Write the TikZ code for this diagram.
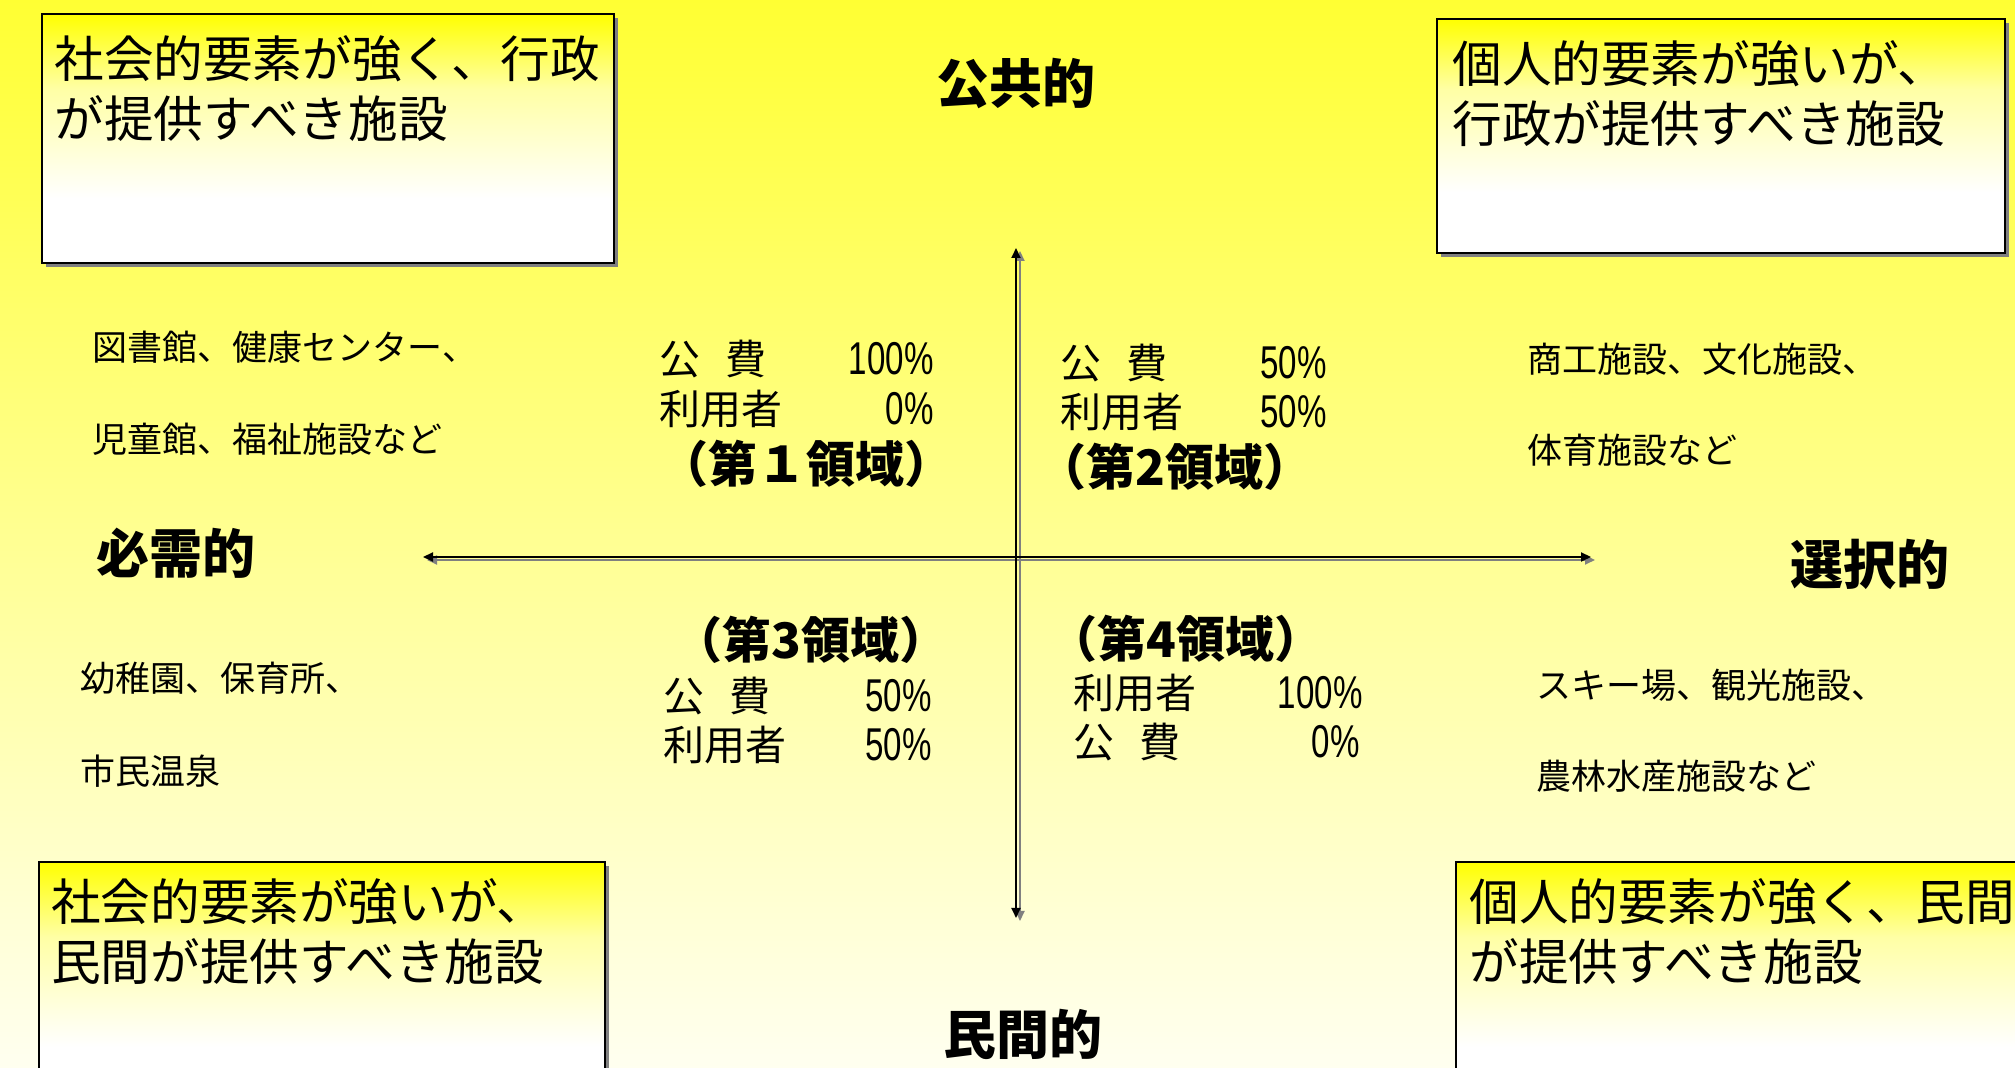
\documentclass[tikz,border=0pt]{standalone}
\usepackage{fontspec}
\setmainfont{Noto Sans CJK JP}
\newfontfamily\numfont[FakeStretch=0.72]{Liberation Sans}
\usetikzlibrary{arrows.meta}
\definecolor{bgtop}{RGB}{255,255,51}
\definecolor{bgmid}{RGB}{255,255,185}
\definecolor{bgbot}{RGB}{255,255,240}
\definecolor{boxmid}{RGB}{255,255,165}
\definecolor{shad}{RGB}{128,128,128}
\pgfdeclareverticalshading{boxshade}{100bp}{color(0bp)=(white); color(25bp)=(white); color(38bp)=(white); color(60bp)=(boxmid); color(75bp)=(yellow); color(100bp)=(yellow)}
\begin{document}
\begin{tikzpicture}[x=0.5pt,y=-0.5pt,
  boxfill/.style={shading=boxshade, draw=black, line width=0.8pt},
  boxtext/.style={anchor=base west, inner sep=0pt, align=left, font=\fontsize{24.8}{30}\selectfont},
  axislbl/.style={anchor=base, inner sep=0pt, font=\fontsize{26.5}{30}\selectfont\bfseries},
  axislblw/.style={anchor=base west, inner sep=0pt, font=\fontsize{26.5}{30}\selectfont\bfseries},
  factext/.style={anchor=base west, inner sep=0pt, font=\fontsize{17.5}{20}\selectfont},
  qtext/.style={anchor=base west, inner sep=0pt, font=\fontsize{20.5}{24}\selectfont},
  qnum/.style={anchor=base east, inner sep=0pt, font=\fontsize{23}{24}\selectfont\numfont},
  qhead/.style={anchor=base, inner sep=0pt, font=\fontsize{24.5}{28}\selectfont\bfseries},
  axisline/.style={line width=1pt, {Triangle[length=5pt,width=4.5pt]}-{Triangle[length=5pt,width=4.5pt]}},
]
\useasboundingbox (0,0) rectangle (2015,1068);
\clip (0,0) rectangle (2015,1068);
\fill[top color=bgtop, middle color=bgmid, bottom color=bgbot] (0,0) rectangle (2015,1068);

% boxes
\fill[shad] (46,18) rectangle (618,267);
\path[boxfill] (42,14) rectangle (614,263);
\fill[shad] (1441,23) rectangle (2009,257);
\path[boxfill] (1437,19) rectangle (2005,253);
\fill[shad] (43,866) rectangle (609,1116);
\path[boxfill] (39,862) rectangle (605,1112);
\fill[shad] (1460,866) rectangle (2030,1116);
\path[boxfill] (1456,862) rectangle (2026,1112);

% box texts (base = last line)
\node[boxtext] (tlt) at (54,138) {社会的要素が強く、行政\\が提供すべき施設};
\node[boxtext] (trt) at (1452,143) {個人的要素が強いが、\\行政が提供すべき施設};
\node[boxtext] (blt) at (51,981) {社会的要素が強いが、\\民間が提供すべき施設};
\node[boxtext] (brt) at (1469,981) {個人的要素が強く、民間\\が提供すべき施設};

% axis labels
\node[axislbl] (pub) at (1016,104) {公共的};
\node[axislbl] (pri) at (1023,1055) {民間的};
\node[axislblw] (nec) at (96,574) {必需的};
\node[axislblw] (sel) at (1790,585) {選択的};

% axes
\coordinate (vtop) at (1016,248);
\coordinate (vbot) at (1016,918);
\coordinate (hl) at (423,557);
\coordinate (hr) at (1591,557);
\draw[axisline, draw=shad, fill=shad] ([shift={(4,3)}]vtop) -- ([shift={(4,3)}]vbot);
\draw[axisline, draw=shad, fill=shad] ([shift={(4,3)}]hl) -- ([shift={(4,3)}]hr);
\draw[axisline, draw=black, fill=black] (vtop) -- (vbot);
\draw[axisline, draw=black, fill=black] (hl) -- (hr);

% facilities
\node[factext] (f1a) at (92,361) {図書館、健康センター、};
\node[factext] (f1b) at (92,453) {児童館、福祉施設など};
\node[factext] (f3a) at (80,692) {幼稚園、保育所、};
\node[factext] (f3b) at (80,785) {市民温泉};
\node[factext] (f2a) at (1527,373) {商工施設、文化施設、};
\node[factext] (f2b) at (1527,464) {体育施設など};
\node[factext] (f4a) at (1536,699) {スキー場、観光施設、};
\node[factext] (f4b) at (1536,790) {農林水産施設など};

% quadrant 1
\node[qtext] (q1a) at (659,375) {公\hspace{0.6em}費};
\node[qnum] (q1an) at (934,375) {100\%};
\node[qtext] (q1b) at (659,425) {利用者};
\node[qnum] (q1bn) at (934,425) {0\%};
\node[qhead] (q1h) at (806,483) {（第１領域）};
% quadrant 2
\node[qtext] (q2a) at (1060,379) {公\hspace{0.6em}費};
\node[qnum] (q2an) at (1327,379) {50\%};
\node[qtext] (q2b) at (1060,428) {利用者};
\node[qnum] (q2bn) at (1327,428) {50\%};
\node[qhead] (q2h) at (1175,486) {（第2領域）};
% quadrant 3
\node[qhead] (q3h) at (811,659) {（第3領域）};
\node[qtext] (q3a) at (663,712) {公\hspace{0.6em}費};
\node[qnum] (q3an) at (932,712) {50\%};
\node[qtext] (q3b) at (663,761) {利用者};
\node[qnum] (q3bn) at (932,761) {50\%};
% quadrant 4
\node[qhead] (q4h) at (1186,658) {（第4領域）};
\node[qtext] (q4a) at (1073,709) {利用者};
\node[qnum] (q4an) at (1363,709) {100\%};
\node[qtext] (q4b) at (1073,758) {公\hspace{0.6em}費};
\node[qnum] (q4bn) at (1360,758) {0\%};
\end{tikzpicture}
\end{document}
